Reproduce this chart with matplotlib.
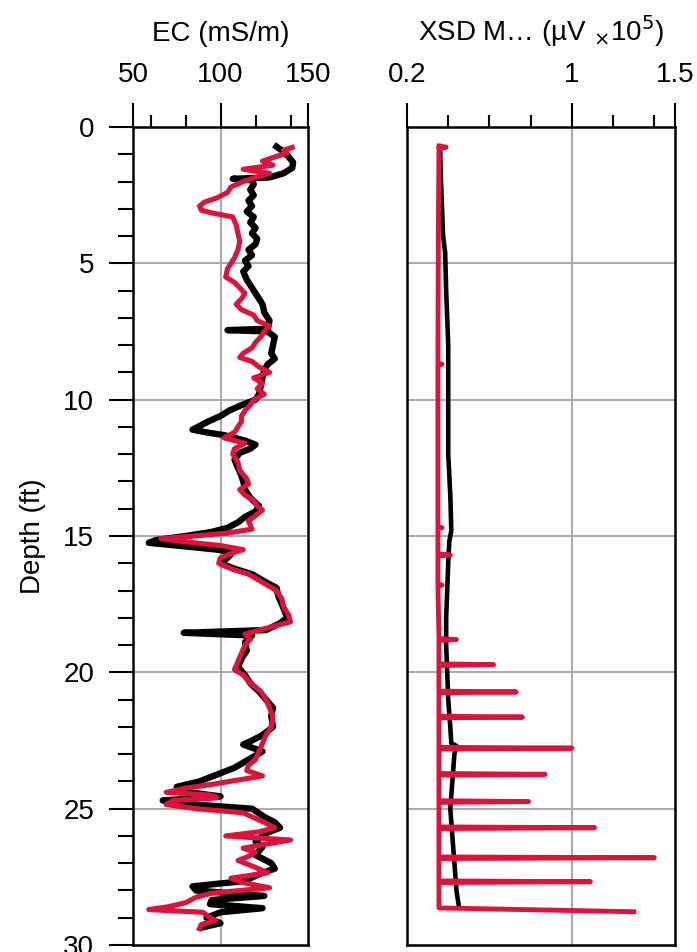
import matplotlib
matplotlib.use("Agg")
import matplotlib.pyplot as plt
from matplotlib.ticker import FixedLocator, MultipleLocator

plt.rcParams["font.family"] = ["Liberation Sans", "DejaVu Sans"]

# EC log (mS/m) vs depth (ft)
ec_black_depth = [0.72, 0.9, 1.1, 1.3, 1.5, 1.7, 1.85, 1.9, 1.95, 2.1, 2.3, 2.5, 2.7, 2.9, 3.1,
                  3.3, 3.5, 3.7, 3.9, 4.1, 4.3, 4.5, 4.7, 4.9, 5.1, 5.3, 5.6, 5.9, 6.2, 6.5,
                  6.8, 7.1, 7.4, 7.45, 7.5, 7.7, 8.0, 8.3, 8.5, 8.7, 8.9, 9.2, 9.5, 9.8, 10.0,
                  10.2, 10.4, 10.6, 10.8, 11.0, 11.1, 11.2, 11.3, 11.5, 11.65, 11.8, 11.95,
                  12.2, 12.5, 12.8, 13.0, 13.3, 13.6, 13.9, 14.1, 14.3, 14.5, 14.7, 14.85,
                  15.0, 15.15, 15.25, 15.35, 15.5, 15.6, 15.8, 16.0, 16.2, 16.4, 16.7, 16.9,
                  17.2, 17.5, 17.8, 18.0, 18.2, 18.45, 18.55, 18.65, 18.9, 19.2, 19.5, 19.8,
                  20.1, 20.4, 20.7, 21.0, 21.3, 21.6, 22.0, 22.3, 22.5, 22.65, 22.9, 23.2,
                  23.5, 23.8, 24.0, 24.2, 24.4, 24.55, 24.7, 24.85, 25.0, 25.3, 25.5, 25.7,
                  25.9, 26.2, 26.4, 26.7, 27.0, 27.2, 27.4, 27.65, 27.85, 28.0, 28.2, 28.35,
                  28.5, 28.65, 28.8, 29.0, 29.2, 29.35]
ec_black = [132, 136, 139, 141.5, 141, 136, 128, 107, 118, 119, 117, 119, 116, 118, 115,
            119, 117, 120, 118, 121, 120, 116, 118, 114, 116, 113, 115, 118, 121, 124,
            125, 128, 127, 104, 127, 131, 130, 129, 131, 127, 125, 124, 123, 122, 120,
            112, 105, 100, 93, 87, 84, 92, 102, 114, 120, 117, 111,
            108, 110, 112, 113, 114, 117, 122, 120, 114, 110, 104, 95,
            80, 63, 59, 75, 98, 107, 104, 100, 108, 118, 126, 132,
            133, 135, 137, 138, 134, 126, 79, 118, 114, 115, 112, 110,
            114, 117, 122, 126, 130, 129, 130, 124, 118, 113, 124, 116,
            108, 96, 88, 75, 82, 100, 67, 85, 118, 125, 131, 134,
            126, 120, 124, 120, 129, 131, 122, 114, 84, 86, 125, 95,
            94, 124, 100, 92, 100, 90]

ec_red_depth = [0.75, 0.85, 0.95, 1.1, 1.25, 1.4, 1.55, 1.7, 1.85, 2.0, 2.2, 2.4, 2.6, 2.75,
                2.9, 3.05, 3.15, 3.3, 3.6, 3.9, 4.2, 4.5, 4.8, 5.0, 5.2, 5.5, 5.7, 5.9, 6.1,
                6.3, 6.5, 6.7, 6.9, 7.1, 7.3, 7.5, 7.7, 7.9, 8.1, 8.3, 8.45, 8.6, 8.8, 9.0,
                9.2, 9.4, 9.6, 9.8, 10.0, 10.2, 10.4, 10.6, 10.8, 11.0, 11.2, 11.4, 11.6,
                11.8, 12.0, 12.3, 12.6, 12.9, 13.1, 13.3, 13.5, 13.7, 13.9, 14.05, 14.2,
                14.45, 14.6, 14.75, 14.9, 15.0, 15.1, 15.2, 15.35, 15.5, 15.6, 15.8, 16.0,
                16.2, 16.4, 16.7, 17.0, 17.3, 17.6, 17.9, 18.15, 18.35, 18.6, 18.8, 19.0,
                19.3, 19.6, 19.9, 20.1, 20.4, 20.7, 21.0, 21.3, 21.6, 22.0, 22.3, 22.6,
                22.9, 23.2, 23.4, 23.6, 23.8, 23.95, 24.1, 24.25, 24.4, 24.5, 24.6, 24.7,
                24.85, 25.0, 25.15, 25.3, 25.5, 25.7, 25.85, 26.0, 26.15, 26.3, 26.45,
                26.6, 26.75, 26.9, 27.1, 27.35, 27.55, 27.7, 27.9, 28.1, 28.25, 28.45,
                28.6, 28.7, 28.8, 28.95, 29.1, 29.25, 29.4]
ec_red = [141, 136, 138, 131, 124, 130, 113, 128, 120, 113, 106, 104, 98, 91,
          88, 89, 95, 107, 109, 110, 111, 110, 108, 106, 104, 103, 108, 111, 114,
          112, 109, 112, 119, 121, 128, 125, 123, 120, 118, 113, 111, 118, 122, 128,
          119, 124, 121, 125, 119, 117, 114, 112, 112, 110, 108, 102, 114,
          108, 107, 110, 111, 115, 116, 111, 114, 119, 121, 124, 121,
          116, 117, 118, 103, 85, 66, 78, 100, 113, 108, 100, 99,
          106, 116, 124, 132, 135, 136, 139, 140, 128, 114, 117, 114,
          112, 110, 108, 113, 117, 123, 126, 128, 130, 129, 126, 124,
          122, 120, 116, 115, 124, 110, 96, 80, 69, 94, 98, 73,
          69, 86, 113, 118, 125, 131, 122, 103, 140, 126, 113,
          120, 116, 110, 118, 127, 106, 112, 128, 95, 86, 80,
          70, 59, 90, 93, 97, 89, 88]

# XSD magnitude (uV x 1e5) vs depth (ft)
xsd_black_depth = [0.7, 2.0, 4.0, 4.6, 6.0, 8.0, 10.0, 12.0, 13.5, 14.8, 15.2, 16.0, 17.0,
                   18.0, 19.0, 20.0, 21.0, 22.0, 22.6, 22.7, 23.0, 24.0, 25.0, 26.0, 27.0,
                   28.0, 28.5]
xsd_black = [0.36, 0.365, 0.375, 0.385, 0.39, 0.40, 0.40, 0.40, 0.41, 0.415, 0.405, 0.40,
             0.395, 0.39, 0.39, 0.395, 0.40, 0.41, 0.415, 0.44, 0.43, 0.42, 0.41, 0.42, 0.43,
             0.44, 0.45]

xsd_red_depth = [0.70, 0.74, 0.77, 4.0, 8.65, 8.7, 8.73, 14.65, 14.7, 14.73, 15.65, 15.7,
                 15.73, 16.75, 16.8, 16.83, 18.76, 18.8, 18.83, 19.69, 19.72, 19.75, 20.69,
                 20.72, 20.75, 21.61, 21.64, 21.67, 22.75, 22.78, 22.81, 23.71, 23.74, 23.77,
                 24.71, 24.74, 24.77, 25.67, 25.7, 25.73, 26.77, 26.8, 26.83, 27.65, 27.68,
                 27.71, 28.64, 28.78]
xsd_red = [0.355, 0.39, 0.355, 0.352, 0.35, 0.37, 0.35, 0.35, 0.37, 0.35, 0.35, 0.41, 0.35,
           0.35, 0.37, 0.35, 0.355, 0.44, 0.355, 0.355, 0.62, 0.355, 0.355, 0.73, 0.355,
           0.355, 0.76, 0.355, 0.355, 1.0, 0.355, 0.355, 0.87, 0.355, 0.355, 0.79,
           0.355, 0.355, 1.11, 0.355, 0.355, 1.40, 0.355, 0.355, 1.09, 0.355, 0.355,
           1.30]

RED = "#dc143c"
GRID = "#ababab"

fig = plt.figure(figsize=(6.97, 9.52), dpi=100)
a0 = fig.add_axes([133 / 697, 1 - 945 / 952, 175 / 697, 818 / 952])
a1 = fig.add_axes([407 / 697, 1 - 945 / 952, 268 / 697, 818 / 952])

a0.plot(ec_black, ec_black_depth, color="black", lw=4.6, zorder=3)
a0.plot(ec_red, ec_red_depth, color=RED, lw=3.7, zorder=4)
a1.plot(xsd_black, xsd_black_depth, color="black", lw=3.3, zorder=3)
a1.plot(xsd_red, xsd_red_depth, color=RED, lw=3.5, zorder=4)

a0.set_xlim(50, 150)
a1.set_xlim(0.2, 1.5)
for ax in (a0, a1):
    ax.set_ylim(30, 0)
    for s in ax.spines.values():
        s.set_linewidth(1.8)
    ax.xaxis.tick_top()
    ax.xaxis.set_label_position("top")
    ax.tick_params(axis="x", which="major", length=17, width=1.5, pad=11, labelsize=20,
                   bottom=False, top=True)
    ax.tick_params(axis="x", which="minor", length=8.5, width=1.5, bottom=False, top=True)
    ax.yaxis.set_major_locator(MultipleLocator(5))

a0.xaxis.set_major_locator(FixedLocator([50, 100, 150]))
a0.xaxis.set_minor_locator(FixedLocator([60, 80, 120, 140]))
a0.yaxis.set_minor_locator(MultipleLocator(1))
a0.tick_params(axis="y", which="major", length=17, width=1.5, pad=11, labelsize=20)
a0.tick_params(axis="y", which="minor", length=11, width=1.5)
a0.set_yticks([0, 5, 10, 15, 20, 25, 30])

a1.xaxis.set_major_locator(FixedLocator([0.2, 1, 1.5]))
a1.xaxis.set_minor_locator(FixedLocator([0.4, 0.6, 0.8, 1.2, 1.4]))
a1.set_xticklabels(["0.2", "1", "1.5"])
a1.tick_params(axis="y", which="both", left=False, labelleft=False)

for ax, xg in ((a0, [100]), (a1, [1.0])):
    for g in xg:
        ax.axvline(g, color=GRID, lw=1.5, zorder=1)
    for d in (5, 10, 15, 20, 25):
        ax.axhline(d, color=GRID, lw=1.5, zorder=1)

a0.set_xlabel("EC (mS/m)", fontsize=20, labelpad=15)
a1.set_xlabel("XSD M… (µV $_{\\times}$10$^{5}$)", fontsize=20, labelpad=15)
a0.set_ylabel("Depth (ft)", fontsize=20, labelpad=12)

fig.savefig("out.png", dpi=100)
